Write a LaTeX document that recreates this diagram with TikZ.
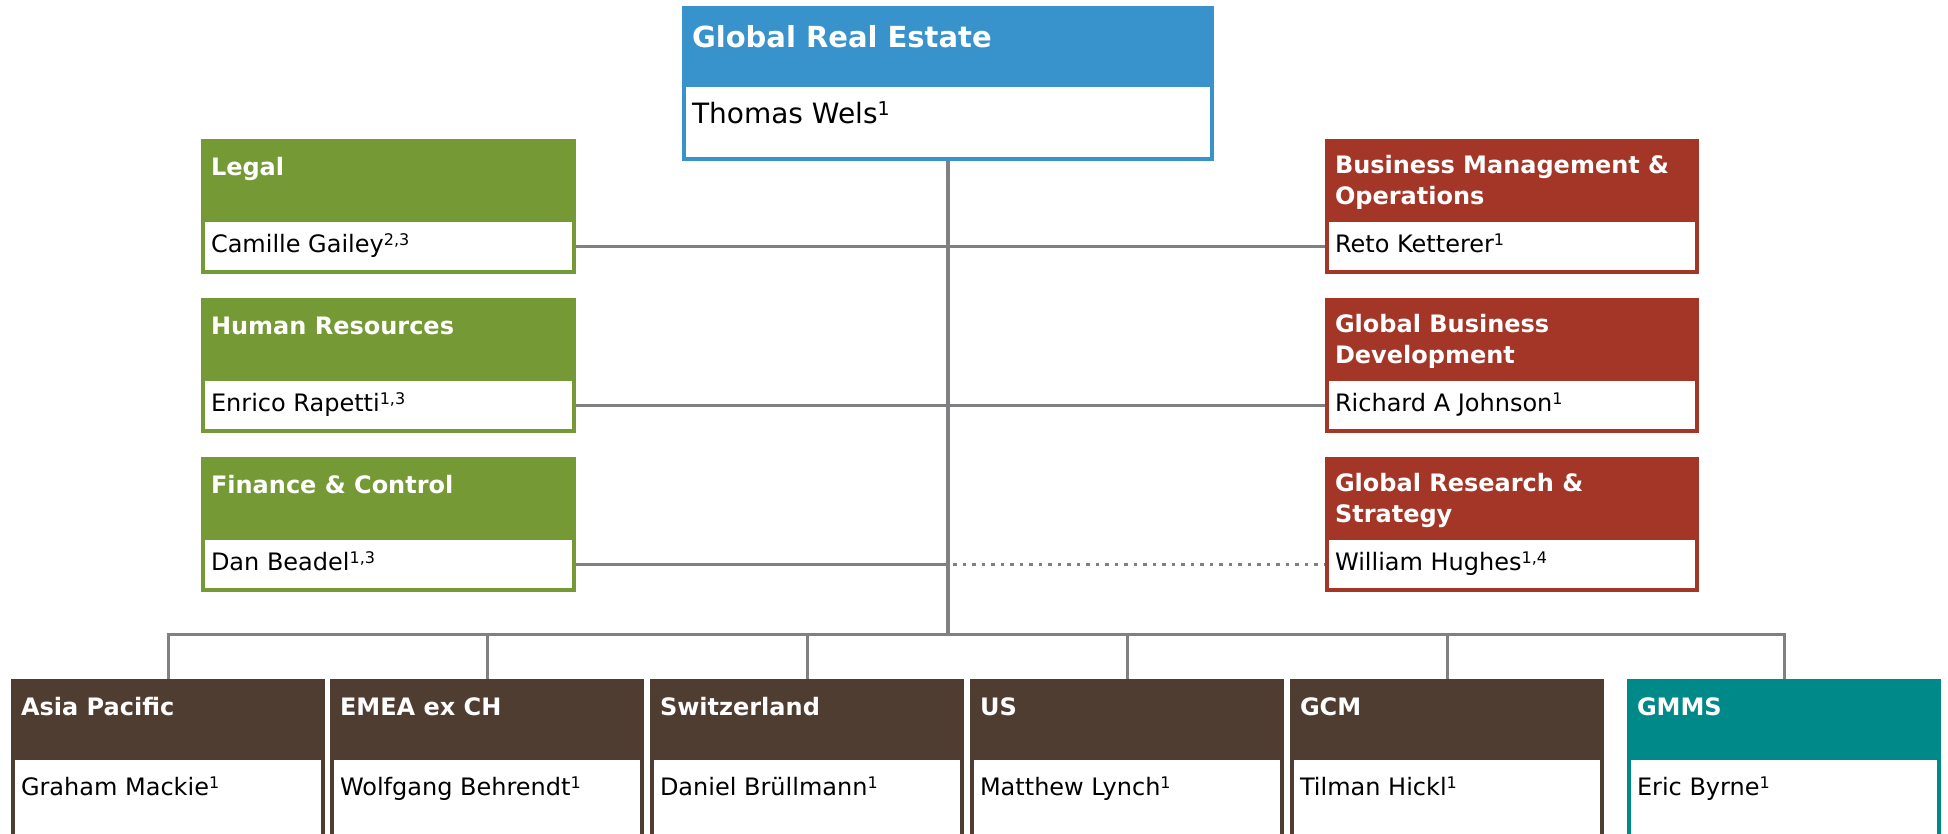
\documentclass[tikz,border=0pt]{standalone}
\usepackage{fontspec}
\setmainfont{DejaVu Sans}
\usetikzlibrary{calc}
\definecolor{ubsblue}{RGB}{56,146,203}
\definecolor{ubsgreen}{RGB}{117,153,52}
\definecolor{ubsred}{RGB}{164,54,39}
\definecolor{ubsbrown}{RGB}{80,61,50}
\definecolor{ubsteal}{RGB}{0,137,137}
\definecolor{linegray}{RGB}{128,128,131}
\newcommand\supnum[1]{\raisebox{6.5pt}{\fontsize{16}{16}\selectfont #1}}
\newcommand\bigsupnum[1]{\raisebox{8pt}{\fontsize{19}{19}\selectfont #1}}
\tikzset{
  frame/.style={rectangle, inner sep=0pt, outer sep=0pt, anchor=north west, draw=none},
  ttl/.style={anchor=base west, inner sep=0pt, outer sep=0pt, text=white, font=\fontsize{24}{28}\selectfont\bfseries},
  nm/.style={anchor=base west, inner sep=0pt, outer sep=0pt, text=black, font=\fontsize{24}{28}\selectfont},
  bigttl/.style={ttl, font=\fontsize{29}{34}\selectfont\bfseries},
  bignm/.style={nm, font=\fontsize{28}{32}\selectfont},
  conn/.style={draw=linegray, line width=3pt},
  trunk/.style={draw=linegray, line width=4pt},
  dotline/.style={draw=linegray, line width=3pt, dash pattern=on 3.5pt off 6pt},
}
% #1 name, #2 x, #3 y, #4 width, #5 height, #6 band height, #7 colour
\newcommand\orgbox[7]{%
  \node[frame, fill=#7, minimum width=#4pt, minimum height=#5pt] (#1) at (#2,#3) {};
  \node[frame, fill=white, minimum width=#4pt-8pt, minimum height=#5pt-#6pt-4pt] (#1-w) at (#2+4,#3+#6) {};
}
\begin{document}
\begin{tikzpicture}[x=1pt,y=-1pt]
\useasboundingbox (0,0) rectangle (1948,833);
% top
\orgbox{top}{682}{6}{532}{155}{81}{ubsblue}
\node[bigttl] (top-t) at (692,47) {Global Real Estate};
\node[bignm] (top-n) at (692,123) {Thomas Wels\bigsupnum{1}};
% left boxes
\orgbox{legal}{201}{139}{375}{135}{83}{ubsgreen}
\node[ttl] (legal-t) at (211,175) {Legal};
\node[nm] (legal-n) at (211,252) {Camille Gailey\supnum{2,3}};
\orgbox{hr}{201}{298}{375}{135}{83}{ubsgreen}
\node[ttl] (hr-t) at (211,334) {Human Resources};
\node[nm] (hr-n) at (211,411) {Enrico Rapetti\supnum{1,3}};
\orgbox{fin}{201}{457}{375}{135}{83}{ubsgreen}
\node[ttl] (fin-t) at (211,493) {Finance \& Control};
\node[nm] (fin-n) at (211,570) {Dan Beadel\supnum{1,3}};
% right boxes
\orgbox{bm}{1325}{139}{374}{135}{83}{ubsred}
\node[ttl] (bm-t1) at (1335,173) {Business Management \&};
\node[ttl] (bm-t2) at (1335,204) {Operations};
\node[nm] (bm-n) at (1335,252) {Reto Ketterer\supnum{1}};
\orgbox{gbd}{1325}{298}{374}{135}{83}{ubsred}
\node[ttl] (gbd-t1) at (1335,332) {Global Business};
\node[ttl] (gbd-t2) at (1335,363) {Development};
\node[nm] (gbd-n) at (1335,411) {Richard A Johnson\supnum{1}};
\orgbox{grs}{1325}{457}{374}{135}{83}{ubsred}
\node[ttl] (grs-t1) at (1335,491) {Global Research \&};
\node[ttl] (grs-t2) at (1335,522) {Strategy};
\node[nm] (grs-n) at (1335,570) {William Hughes\supnum{1,4}};
% bottom boxes
\orgbox{ap}{11}{679}{314}{175}{81}{ubsbrown}
\node[ttl] (ap-t) at (21,715) {Asia Pacific};
\node[nm] (ap-n) at (21,795) {Graham Mackie\supnum{1}};
\orgbox{emea}{330}{679}{314}{175}{81}{ubsbrown}
\node[ttl] (emea-t) at (340,715) {EMEA ex CH};
\node[nm] (emea-n) at (340,795) {Wolfgang Behrendt\supnum{1}};
\orgbox{ch}{650}{679}{314}{175}{81}{ubsbrown}
\node[ttl] (ch-t) at (660,715) {Switzerland};
\node[nm] (ch-n) at (660,795) {Daniel Brüllmann\supnum{1}};
\orgbox{us}{970}{679}{314}{175}{81}{ubsbrown}
\node[ttl] (us-t) at (980,715) {US};
\node[nm] (us-n) at (980,795) {Matthew Lynch\supnum{1}};
\orgbox{gcm}{1290}{679}{314}{175}{81}{ubsbrown}
\node[ttl] (gcm-t) at (1300,715) {GCM};
\node[nm] (gcm-n) at (1300,795) {Tilman Hickl\supnum{1}};
\orgbox{gmms}{1627}{679}{314}{175}{81}{ubsteal}
\node[ttl] (gmms-t) at (1637,715) {GMMS};
\node[nm] (gmms-n) at (1637,795) {Eric Byrne\supnum{1}};
% connectors
\coordinate (bus) at (948,634);
\draw[trunk] (top.south) -- (top.south |- bus);
\draw[conn] (legal.east |- legal-w.east) -- (bm.west |- bm-w.west);
\draw[conn] (hr.east |- hr-w.east) -- (gbd.west |- gbd-w.west);
\draw[conn] (fin.east |- fin-w.east) -- (fin-w.east -| top.south);
\draw[dotline] ($(grs-w.west -| top.south)+(5,0)$) -- (grs.west |- grs-w.west);
\draw[conn] (ap.north) -- (ap.north |- bus) -- (gmms.north |- bus) -- (gmms.north);
\draw[conn] (emea.north) -- (emea.north |- bus);
\draw[conn] (ch.north) -- (ch.north |- bus);
\draw[conn] (us.north) -- (us.north |- bus);
\draw[conn] (gcm.north) -- (gcm.north |- bus);
\end{tikzpicture}
\end{document}
